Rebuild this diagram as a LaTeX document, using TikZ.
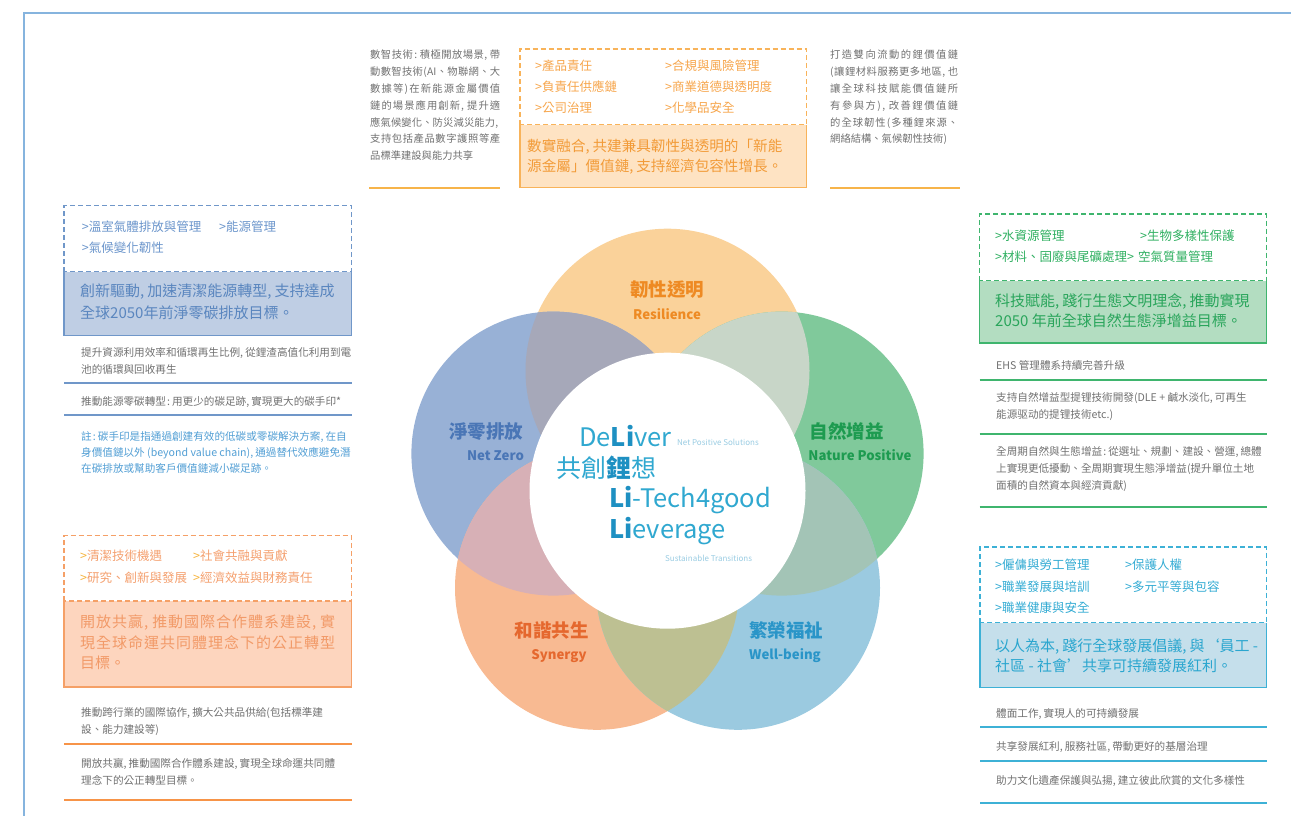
\documentclass[tikz,border=0pt]{standalone}
\usepackage{fontspec}
\setmainfont{Noto Sans CJK TC}
\hbadness=10000
\newcommand\cma{,\kern.2em}
\newcommand\cln{\kern.1em:\kern.2em}
\ExplSyntaxOn
\NewDocumentCommand\jline{m}{\noindent\hbox_to_wd:nn {\hsize} { \tl_map_inline:nn {#1} { ##1 \hfil } \unskip }}
\ExplSyntaxOff
\definecolor{gtext}{HTML}{707070}
\definecolor{frameblue}{HTML}{86B4DE}
\definecolor{cTop}{HTML}{FAD29A}
\definecolor{cLeft}{HTML}{98B1D6}
\definecolor{cRight}{HTML}{80C99B}
\definecolor{cBL}{HTML}{F8BA92}
\definecolor{cBR}{HTML}{9BCAE0}
\definecolor{oTL}{HTML}{A6A8B9}
\definecolor{oTR}{HTML}{C8D6C8}
\definecolor{oRBR}{HTML}{A3C4B6}
\definecolor{oBRBL}{HTML}{BDC092}
\definecolor{oBLL}{HTML}{D7B0B6}
% boxes
\definecolor{obord}{HTML}{F8B35A}\definecolor{ofill}{HTML}{FEE3C3}\definecolor{oitem}{HTML}{F6A54B}\definecolor{otext}{HTML}{F29B38}
\definecolor{bbord}{HTML}{7097C9}\definecolor{bfill}{HTML}{BFCEE4}\definecolor{bitem}{HTML}{6B95CB}\definecolor{btext}{HTML}{5A86BF}
\definecolor{sbord}{HTML}{F5A067}\definecolor{sfill}{HTML}{FDD5BE}\definecolor{sitem}{HTML}{F4A06F}\definecolor{sarr}{HTML}{F6B43F}\definecolor{stext}{HTML}{F29A68}
\definecolor{gbord}{HTML}{3FB56E}\definecolor{gfill}{HTML}{B3DDC1}\definecolor{gitem}{HTML}{2EAF60}\definecolor{gtxt}{HTML}{29A55B}
\definecolor{cbord}{HTML}{3DB1D6}\definecolor{cfill}{HTML}{C5DFEB}\definecolor{citem}{HTML}{33ABD3}\definecolor{ctxt}{HTML}{2AA6CF}
\definecolor{notec}{HTML}{519ED4}
\definecolor{topline}{HTML}{F7B44A}
\definecolor{lbline}{HTML}{F79448}
% labels
\definecolor{lT}{HTML}{EE8A23}\definecolor{lL}{HTML}{4A76B6}\definecolor{lR}{HTML}{1D9B50}
\definecolor{lBL}{HTML}{E5682E}\definecolor{lBR}{HTML}{2A95C8}
\definecolor{ctr}{HTML}{30A8D0}\definecolor{ctrb}{HTML}{1E90C2}\definecolor{ctrs}{HTML}{99CCE3}
\begin{document}
\begin{tikzpicture}[x=1pt,y=-1pt,
  dbox/.style={dash pattern=on 5pt off 3pt, line width=1.3pt},
  fbox/.style={line width=1.5pt},
  sepline/.style={line width=1.8pt},
  itemtxt/.style={anchor=west, inner sep=0, font=\fontsize{12.5}{14}\selectfont},
  graytxt/.style={anchor=west, inner sep=0, text=gtext, font=\fontsize{10.6}{16.7}\selectfont},
  graypar/.style={anchor=north west, inner sep=0, text=gtext, align=left, font=\fontsize{10.6}{16.7}\selectfont},
  fillpar/.style={anchor=north west, inner sep=0, align=left, font=\fontsize{15}{20}\selectfont},
  cjklab/.style={anchor=center, inner sep=0, font=\fontsize{18.5}{20}\selectfont\bfseries},
  latlab/.style={anchor=base, inner sep=0, font=\fontsize{13.2}{16}\selectfont\bfseries},
  ctrtxt/.style={anchor=base west, inner sep=0, text=ctr, font=\fontsize{25.5}{30}\selectfont},
  ctrsmall/.style={anchor=base west, inner sep=0, text=ctrs, font=\fontsize{8}{9}\selectfont}
]
\useasboundingbox (0,0) rectangle (1291,816);
% frame
\draw[frameblue, line width=2pt] (24,817) -- (24,13.3) -- (1292,13.3);

% petals: regular pentagon, centre (667.5,490.7), distance 120, radius 142
\coordinate (cT) at (667.5,370.7);
\coordinate (cL) at (553.4,453.6);
\coordinate (cR) at (781.6,453.6);
\coordinate (cBL) at (597,587.8);
\coordinate (cBR) at (738,587.8);
\coordinate (cW) at (667.5,490.7);
\fill[cTop] (cT) circle (142pt);
\fill[cLeft] (cL) circle (142pt);
\fill[cRight] (cR) circle (142pt);
\fill[cBL] (cBL) circle (142pt);
\fill[cBR] (cBR) circle (142pt);
\begin{scope}\clip (cT) circle (142pt); \fill[oTL] (cL) circle (142pt);\end{scope}
\begin{scope}\clip (cT) circle (142pt); \fill[oTR] (cR) circle (142pt);\end{scope}
\begin{scope}\clip (cR) circle (142pt); \fill[oRBR] (cBR) circle (142pt);\end{scope}
\begin{scope}\clip (cBR) circle (142pt); \fill[oBRBL] (cBL) circle (142pt);\end{scope}
\begin{scope}\clip (cBL) circle (142pt); \fill[oBLL] (cL) circle (142pt);\end{scope}
\fill[white] (cW) circle (138pt);

% petal labels
\node[cjklab, text=lT] (lab1) at (667,290) {韌性透明};
\node[latlab, text=lT] (lab1e) at (667,319.5) {Resilience};
\node[cjklab, text=lL] (lab2) at (486,431.5) {淨零排放};
\node[latlab, text=lL] (lab2e) at (495.5,460.5) {Net Zero};
\node[cjklab, text=lR] (lab3) at (846.5,431.5) {自然增益};
\node[latlab, text=lR] (lab3e) at (860,460.5) {Nature Positive};
\node[cjklab, text=lBL] (lab4) at (551.5,630) {和諧共生};
\node[latlab, text=lBL] (lab4e) at (559,659.5) {Synergy};
\node[cjklab, text=lBR] (lab5) at (786,630) {繁榮福祉};
\node[latlab, text=lBR] (lab5e) at (785,659.5) {Well-being};

% center text
\node[ctrtxt] (c1) at (579,446) {De{\bfseries\color{ctrb}Li}ver};
\node[ctrsmall] (c1s) at (677,445) {Net Positive Solutions};
\node[anchor=west, inner sep=0, text=ctr, font=\fontsize{25}{27}\selectfont] (c2) at (556,468) {共創{\bfseries\color{ctrb}鋰}想};
\node[ctrtxt] (c3) at (609,507) {{\bfseries\color{ctrb}Li}-Tech4good};
\node[ctrtxt] (c4) at (609,538) {{\bfseries\color{ctrb}Li}everage};
\node[ctrsmall] (c4s) at (665,561.7) {Sustainable Transitions};

% ===== top =====
\node[graypar, text width=130pt, font=\fontsize{10.3}{16.8}\selectfont] (tlp) at (370,50) {\jline{數智技術\cln 積極開放場景\cma 帶}\\\jline{動數智技術({AI}、物聯網、大}\\\jline{數據等)在新能源金屬價值}\\\jline{鏈的場景應用創新\cma 提升適}\\\jline{應氣候變化、防災減災能力\cma}\\\jline{支持包括產品數字護照等產}\\品標準建設與能力共享};
\node[graypar, text width=128pt, font=\fontsize{10.3}{16.8}\selectfont] (trp) at (830,50) {\jline{打造雙向流動的鋰價值鏈}\\\jline{(讓鋰材料服務更多地區\cma 也}\\\jline{讓全球科技賦能價值鏈所}\\\jline{有參與方)\cma 改善鋰價值鏈}\\\jline{的全球韌性(多種鋰來源、}\\網絡結構、氣候韌性技術)};
\draw[topline, sepline] (369,187.7) -- (500,187.7);
\draw[topline, sepline] (830,187.7) -- (960,187.7);

\fill[ofill] (520,124.5) rectangle (806.7,187.7);
\draw[obord, fbox] (520,124.5) -- (520,187.7) -- (806.7,187.7) -- (806.7,124.5);
\draw[obord, dbox] (520,124.5) rectangle (806.7,49);
\node[itemtxt, text=oitem] (ti1) at (535,66) {>產品責任};
\node[itemtxt, text=oitem] (ti2) at (535,86.7) {>負責任供應鏈};
\node[itemtxt, text=oitem] (ti3) at (535,107.7) {>公司治理};
\node[itemtxt, text=oitem] (ti4) at (665,66) {>合規與風險管理};
\node[itemtxt, text=oitem] (ti5) at (665,86.7) {>商業道德與透明度};
\node[itemtxt, text=oitem] (ti6) at (665,107.7) {>化學品安全};
\node[fillpar, text=otext, font=\fontsize{14.6}{20}\selectfont] (tf) at (527,138.7) {數實融合\cma 共建兼具韌性與透明的「新能\\源金屬」價值鏈\cma 支持經濟包容性增長。};

% ===== left top (blue) =====
\fill[bfill] (64,271.5) rectangle (351.5,335.5);
\draw[bbord, fbox] (64,271.5) -- (64,335.5) -- (351.5,335.5) -- (351.5,271.5);
\draw[bbord, dbox] (64,271.5) rectangle (351.5,205.7);
\node[itemtxt, text=bitem] (bi1) at (81.7,227) {>溫室氣體排放與管理};
\node[itemtxt, text=bitem] (bi2) at (219,227) {>能源管理};
\node[itemtxt, text=bitem] (bi3) at (81.7,248) {>氣候變化韌性};
\node[fillpar, text=btext, font=\fontsize{15}{22.6}\selectfont] (bf) at (80,283.2) {創新驅動\cma 加速清潔能源轉型\cma 支持達成\\全球2050年前淨零碳排放目標。};
\node[graypar] (bg1) at (81,347.4) {提升資源利用效率和循環再生比例\cma 從鋰渣高值化利用到電\\池的循環與回收再生};
\draw[bbord, sepline] (64,383.3) -- (351.5,383.3);
\node[graytxt] (bg2) at (81,401.7) {推動能源零碳轉型\cln 用更少的碳足跡\cma 實現更大的碳手印*};
\draw[bbord, sepline] (64,415) -- (351.5,415);
\node[graypar, text=notec, font=\fontsize{10.6}{16}\selectfont] (bn) at (81,431.4) {註\cln 碳手印是指通過創建有效的低碳或零碳解決方案\cma 在自\\身價值鏈以外 (beyond value chain)\cma 通過替代效應避免潛\\在碳排放或幫助客戶價值鏈減小碳足跡。};

% ===== left bottom (salmon) =====
\fill[sfill] (64,601) rectangle (351.5,687);
\draw[sbord, fbox] (64,601) -- (64,687) -- (351.5,687) -- (351.5,601);
\draw[sbord, dbox] (64,601) rectangle (351.5,535.7);
\node[itemtxt, text=sitem] (si1) at (80,556) {{\color{sarr}>}清潔技術機遇};
\node[itemtxt, text=sitem] (si2) at (193,556) {{\color{sarr}>}社會共融與貢獻};
\node[itemtxt, text=sitem] (si3) at (80,577.7) {{\color{sarr}>}研究、創新與發展};
\node[itemtxt, text=sitem] (si4) at (193,577.7) {{\color{sarr}>}經濟效益與財務責任};
\node[fillpar, text=stext, text width=255pt, font=\fontsize{15}{20.5}\selectfont] (sf) at (80,614.8) {\jline{開放共贏\cma 推動國際合作體系建設\cma 實}\\\jline{現全球命運共同體理念下的公正轉型}\\目標。};
\node[graypar, font=\fontsize{10.6}{16.3}\selectfont] (sg1) at (81,707.7) {推動跨行業的國際協作\cma 擴大公共品供給(包括標準建\\設、能力建設等)};
\draw[lbline, sepline] (64,744) -- (351.5,744);
\node[graypar, font=\fontsize{10.6}{16.3}\selectfont] (sg2) at (81,758.7) {開放共贏\cma 推動國際合作體系建設\cma 實現全球命運共同體\\理念下的公正轉型目標。};
\draw[lbline, sepline] (64,800) -- (351.5,800);

% ===== right top (green) =====
\fill[gfill] (979.5,280.5) rectangle (1266.5,343);
\draw[gbord, fbox] (979.5,280.5) -- (979.5,343) -- (1266.5,343) -- (1266.5,280.5);
\draw[gbord, dbox] (979.5,280.5) rectangle (1266.5,214);
\node[itemtxt, text=gitem] (gi1) at (995,235.7) {>水資源管理};
\node[itemtxt, text=gitem] (gi2) at (1140,235.7) {>生物多樣性保護};
\node[itemtxt, text=gitem] (gi3) at (995,256.7) {>材料、固廢與尾礦處理>};
\node[itemtxt, text=gitem] (gi4) at (1138,256.7) {空氣質量管理};
\node[fillpar, text=gtxt] (gf) at (995,293.5) {科技賦能\cma 踐行生態文明理念\cma 推動實現\\2050 年前全球自然生態淨增益目標。};
\node[graytxt] (gg1) at (996,365.7) {EHS 管理體系持續完善升級};
\draw[gbord, sepline] (979.5,380) -- (1266.5,380);
\node[graypar, font=\fontsize{10.6}{17}\selectfont] (gg2) at (996,392.7) {支持自然增益型提锂技術開發(DLE + 鹹水淡化\cma 可再生\\能源驱动的提锂技術etc.)};
\draw[gbord, sepline] (979.5,434) -- (1266.5,434);
\node[graypar] (gg3) at (996,446.4) {全周期自然與生態增益\cln 從選址、規劃、建設、營運\cma 總體\\上實現更低擾動、全周期實現生態淨增益(提升單位土地\\面積的自然資本與經濟貢獻)};
\draw[gbord, sepline] (979.5,506.7) -- (1266.5,506.7);

% ===== right bottom (cyan) =====
\fill[cfill] (980,622.7) rectangle (1266.5,687.7);
\draw[cbord, fbox] (980,622.7) -- (980,687.7) -- (1266.5,687.7) -- (1266.5,622.7);
\draw[cbord, dbox] (980,622.7) rectangle (1266.5,547);
\node[itemtxt, text=citem] (ci1) at (995,565) {>僱傭與勞工管理};
\node[itemtxt, text=citem] (ci2) at (1125,565) {>保護人權};
\node[itemtxt, text=citem] (ci3) at (995,586.7) {>職業發展與培訓};
\node[itemtxt, text=citem] (ci4) at (1125,586.7) {>多元平等與包容};
\node[itemtxt, text=citem] (ci5) at (995,607.7) {>職業健康與安全};
\node[fillpar, text=ctxt] (cf) at (995,638.5) {以人為本\cma 踐行全球發展倡議\cma 與‘員工 -\\社區 - 社會’共享可持續發展紅利。};
\node[graytxt] (cg1) at (996,714) {體面工作\cma 實現人的可持續發展};
\draw[cbord, sepline] (980,726.7) -- (1266.5,726.7);
\node[graytxt] (cg2) at (996,747.3) {共享發展紅利\cma 服務社區\cma 帶動更好的基層治理};
\draw[cbord, sepline] (980,760.7) -- (1266.5,760.7);
\node[graytxt] (cg3) at (996,780.7) {助力文化遺產保護與弘揚\cma 建立彼此欣賞的文化多樣性};
\draw[cbord, sepline] (980,803.3) -- (1266.5,803.3);
\end{tikzpicture}
\end{document}
